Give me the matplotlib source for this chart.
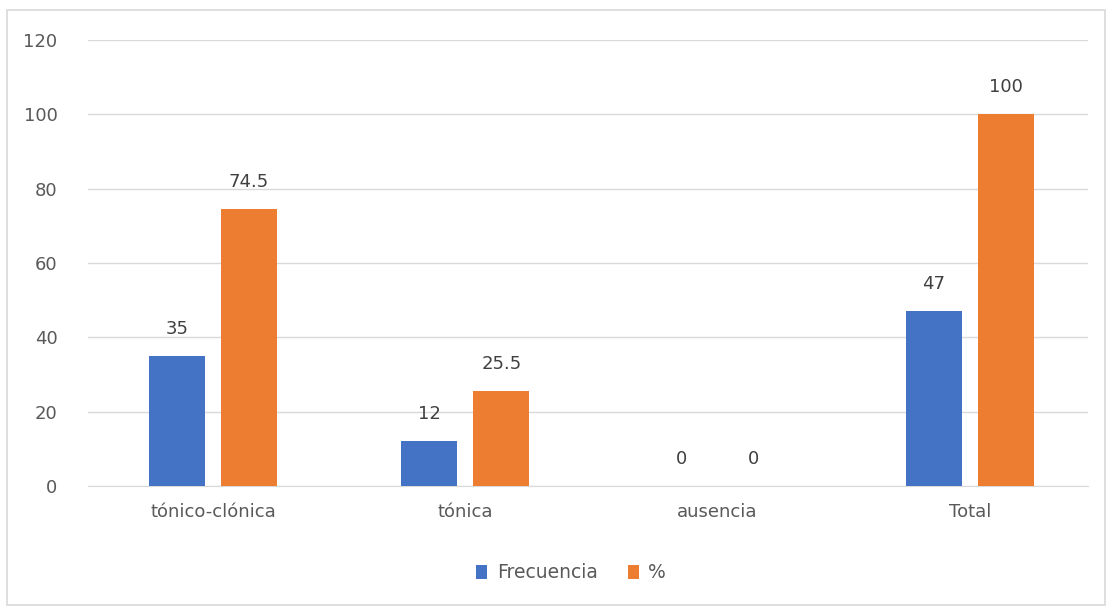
import matplotlib
matplotlib.use("Agg")
import matplotlib.pyplot as plt
import numpy as np
from matplotlib.patches import Rectangle

categories = ["tónico-clónica", "tónica", "ausencia", "Total"]
frecuencia = [35, 12, 0, 47]
porcentaje = [74.5, 25.5, 0, 100]
labels_frec = ["35", "12", "0", "47"]
labels_pct = ["74.5", "25.5", "0", "100"]
yticks = [0, 20, 40, 60, 80, 100, 120]

BLUE = "#4472C4"
ORANGE = "#ED7D31"
TXT = "#595959"

fig = plt.figure(figsize=(11.13, 6.09), dpi=100)
fig.patches.append(Rectangle((7/1113, 1-605/609), (1105-7)/1113, (605-10)/609,
                             transform=fig.transFigure, fill=False,
                             edgecolor="#d9d9d9", linewidth=1.2))
ax = fig.add_axes([88/1113, 1-486/609, 1000/1113, 446/609])

x = np.arange(len(categories))
w = 0.222
off = 0.143
b1 = ax.bar(x - off, frecuencia, w, color=BLUE, label="Frecuencia", zorder=3)
b2 = ax.bar(x + off, porcentaje, w, color=ORANGE, label="%", zorder=3)

for xi, v, lab in zip(x - off, frecuencia, labels_frec):
    ax.annotate(lab, (xi, v), xytext=(0, 13), textcoords="offset points",
                ha="center", va="bottom", fontsize=13, color="#404040")
for xi, v, lab in zip(x + off, porcentaje, labels_pct):
    ax.annotate(lab, (xi, v), xytext=(0, 13), textcoords="offset points",
                ha="center", va="bottom", fontsize=13, color="#404040")

ax.set_xlim(-0.495, 3.468)
ax.set_ylim(0, 120)
ax.set_yticks(yticks)
ax.set_yticklabels([str(t) for t in yticks])
ax.set_xticks(x)
ax.set_xticklabels(categories)
ax.grid(axis="y", color="#d9d9d9", linewidth=1, zorder=0)
for s in ["top", "right", "left"]:
    ax.spines[s].set_visible(False)
ax.spines["bottom"].set_color("#d9d9d9")
ax.tick_params(axis="both", length=0, labelsize=13, labelcolor=TXT)
ax.tick_params(axis="y", pad=22)
ax.tick_params(axis="x", pad=12)

fig.legend(handles=[b1, b2], labels=["Frecuencia", "%"], loc="center",
           bbox_to_anchor=(571/1113, 1-573/609), ncol=2, frameon=False,
           fontsize=13.5, labelcolor=TXT, handlelength=0.6, handleheight=0.8,
           handletextpad=0.5, columnspacing=1.6)

fig.savefig("out.png", dpi=100)
